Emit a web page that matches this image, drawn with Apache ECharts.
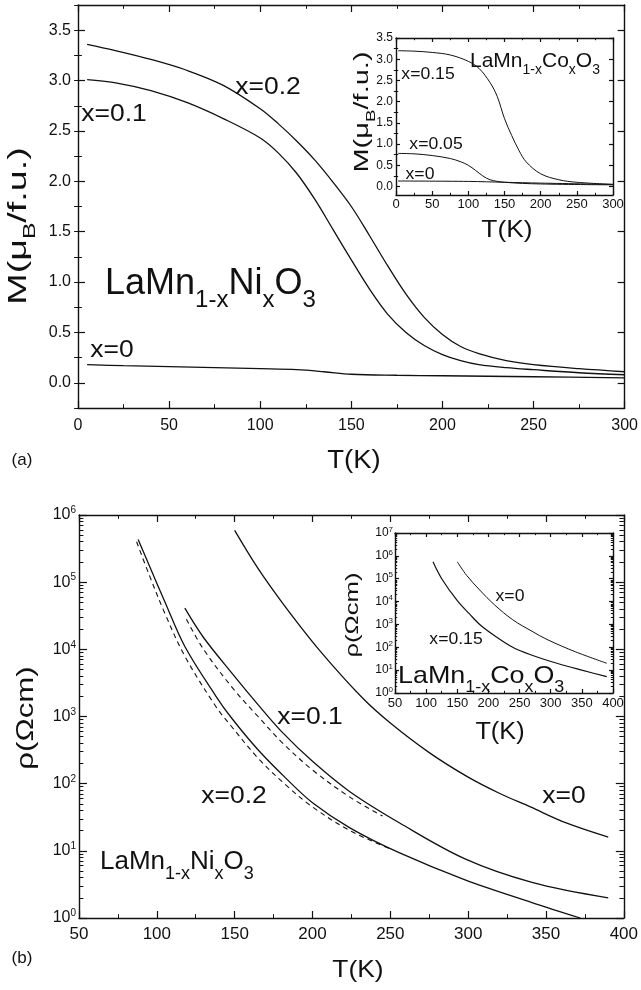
<!DOCTYPE html>
<html>
<head>
<meta charset="utf-8">
<script src="https://cdn.jsdelivr.net/npm/echarts@6/dist/echarts.min.js"></script>
<style>
  html, body { margin: 0; padding: 0; background: #fff; }
  #chart { width: 641px; height: 990px; }
</style>
</head>
<body>
<div id="chart"></div>
<script>
// (a) M(T) of LaMn1-xNixO3
const tNi0 = [5, 25, 50, 75, 100, 120, 135, 150, 175, 200, 250, 300]
const mNi0 = [0.18, 0.17, 0.16, 0.15, 0.14, 0.13, 0.11, 0.085, 0.075, 0.07, 0.06, 0.05]
const tNi1 = [5, 20, 40, 60, 80, 100, 110, 120, 130, 140, 150, 160, 170, 180, 190, 200, 210, 220, 235, 250, 275, 300]
const mNi1 = [3.01, 2.98, 2.9, 2.78, 2.62, 2.43, 2.28, 2.08, 1.82, 1.52, 1.22, 0.93, 0.68, 0.5, 0.37, 0.28, 0.22, 0.18, 0.15, 0.13, 0.1, 0.08]
const tNi2 = [5, 20, 40, 60, 80, 100, 110, 120, 130, 140, 150, 160, 170, 180, 190, 200, 210, 220, 235, 250, 275, 300]
const mNi2 = [3.36, 3.3, 3.21, 3.1, 2.95, 2.72, 2.57, 2.4, 2.21, 1.99, 1.75, 1.46, 1.16, 0.88, 0.65, 0.48, 0.36, 0.29, 0.22, 0.18, 0.14, 0.11]

// (a) inset: M(T) of LaMn1-xCoxO3
const tCo0 = [3, 100, 150, 200, 300]
const mCo0 = [0.13, 0.12, 0.1, 0.08, 0.05]
const tCo05 = [3, 25, 50, 75, 90, 100, 110, 120, 130, 150, 200, 300]
const mCo05 = [0.78, 0.77, 0.73, 0.66, 0.58, 0.5, 0.38, 0.25, 0.16, 0.1, 0.06, 0.04]
const tCo15 = [3, 25, 50, 75, 100, 115, 130, 140, 150, 160, 170, 180, 200, 225, 250, 300]
const mCo15 = [3.2, 3.19, 3.16, 3.1, 2.95, 2.78, 2.45, 2.12, 1.6, 1.2, 0.85, 0.58, 0.3, 0.16, 0.1, 0.05]

// (b) resistivity of LaMn1-xNixO3 (solid: data, dashed: fits)
const tR0 = [150, 165, 181, 204, 232, 250, 275, 300, 320, 340, 363, 390]
const rR0 = [5.9e5, 1.6e5, 4.8e4, 1.0e4, 1.9e3, 800, 290, 125, 72, 45, 26, 16]
const tR1 = [118, 130, 149, 165, 180, 200, 224, 256, 298, 341, 390]
const rR1 = [4.1e4, 1.5e4, 4.2e3, 1.5e3, 600, 215, 76, 26, 7.6, 3.4, 2.0]
const tR1fit = [119, 130, 149, 165, 180, 200, 224, 245]
const rR1fit = [2.8e4, 1.0e4, 2.6e3, 1.0e3, 420, 160, 63, 33]
const tR2 = [88, 95, 105, 118, 138, 148, 165, 183, 200, 224, 256, 298, 341, 372]
const rR2 = [4.3e5, 1.8e5, 5.2e4, 1.1e4, 2.0e3, 950, 320, 120, 52, 22, 9.3, 3.7, 1.7, 1.0]
const tR2fit = [87, 95, 105, 118, 138, 148, 165, 183, 200, 224, 250]
const rR2fit = [4.0e5, 1.3e5, 3.5e4, 7.9e3, 1.4e3, 710, 240, 95, 45, 20, 10.7]

// (b) inset: resistivity of LaMn1-xCoxO3
const tRc0 = [150, 165, 186, 210, 239, 270, 294, 340, 390]
const rRc0 = [5.5e5, 1.4e5, 3.2e4, 7.1e3, 1.6e3, 500, 220, 63, 20]
const tRc15 = [111, 125, 150, 170, 186, 210, 239, 270, 310, 350, 390]
const rRc15 = [5.5e5, 1.0e5, 1.1e4, 2.8e3, 1.0e3, 320, 100, 45, 20, 10, 5.2]

// tick labels
const mTicks = [0, 0.5, 1, 1.5, 2, 2.5, 3, 3.5]
const rhoTicksMain = [1, 10, 100, 1e3, 1e4, 1e5, 1e6]
const rhoTicksInset = [1, 10, 100, 1e3, 1e4, 1e5, 1e6, 1e7]

const FONT = 'Liberation Sans, Arial, sans-serif'
const INK = '#111'

const pairs = (xs, ys) => xs.map((x, i) => [x, ys[i]])

const xAxes = []
const yAxes = []

function addX(grid, o) {
  const base = {
    gridIndex: grid, type: 'value', min: o.min, max: o.max, interval: o.interval,
    axisLine: { onZero: false, lineStyle: { color: INK, width: 1.4 } },
    axisTick: { inside: true, length: o.tick, lineStyle: { color: INK, width: 1.2 } },
    minorTick: { show: true, splitNumber: 2, length: o.tick * 0.55, lineStyle: { color: INK } },
    splitLine: { show: false }
  }
  xAxes.push(Object.assign({}, base, {
    position: 'bottom',
    axisLabel: { fontSize: o.font, color: INK, fontFamily: FONT, margin: o.margin }
  }))
  const idx = xAxes.length - 1
  xAxes.push(Object.assign({}, base, { position: 'top', axisLabel: { show: false } }))
  return idx
}

function addY(grid, o) {
  const base = {
    gridIndex: grid, type: o.type, min: o.min, max: o.max,
    axisLine: { onZero: false, lineStyle: { color: INK, width: 1.4 } },
    splitLine: { show: false }
  }
  const major = { inside: true, length: o.tick, customValues: o.major, lineStyle: { color: INK, width: 1.2 } }
  yAxes.push(Object.assign({}, base, {
    position: 'left', axisTick: major,
    axisLabel: {
      customValues: o.major, fontSize: o.font, color: INK, fontFamily: FONT,
      margin: o.margin, formatter: o.formatter, rich: o.rich
    }
  }))
  const idx = yAxes.length - 1
  yAxes.push(Object.assign({}, base, { position: 'right', axisTick: major, axisLabel: { show: false } }))
  const minor = { inside: true, length: o.tick * 0.55, customValues: o.minor, lineStyle: { color: INK } }
  for (const pos of ['left', 'right']) {
    yAxes.push(Object.assign({}, base, {
      position: pos, axisLine: { show: false }, axisTick: minor, axisLabel: { show: false }
    }))
  }
  return idx
}

function minorLinear(lo, hi, step) {
  const out = []
  for (let v = lo; v <= hi + 1e-9; v += step) out.push(+v.toFixed(3))
  return out
}
function minorLog(d0, d1) {
  const out = []
  for (let d = d0; d < d1; d++) for (let k = 2; k <= 9; k++) out.push(k * Math.pow(10, d))
  return out
}
const supLabel = v => '{b|10}{p|' + Math.round(Math.log10(v)) + '}'

const grids = [
  { left: 78, top: 5, width: 547, height: 403 },
  { left: 396, top: 38, width: 217, height: 157, show: true, backgroundColor: '#fff', borderWidth: 0 },
  { left: 79, top: 515, width: 546, height: 403 },
  { left: 395, top: 533, width: 218, height: 160, show: true, backgroundColor: '#fff', borderWidth: 0 }
]

const xA = addX(0, { min: 0, max: 300, interval: 50, tick: 7, font: 16, margin: 10 })
const yA = addY(0, {
  type: 'value', min: -0.25, max: 3.75, major: mTicks, minor: minorLinear(-0.25, 3.75, 0.25),
  tick: 7, font: 16, margin: 7, formatter: v => v.toFixed(1)
})
const xAi = addX(1, { min: 0, max: 300, interval: 50, tick: 4, font: 13, margin: 3 })
const yAi = addY(1, {
  type: 'value', min: -0.2, max: 3.5, major: mTicks, minor: minorLinear(0.25, 3.25, 0.5),
  tick: 4, font: 12, margin: 3, formatter: v => v.toFixed(1)
})
const xB = addX(2, { min: 50, max: 400, interval: 50, tick: 7, font: 17, margin: 8 })
const yB = addY(2, {
  type: 'log', min: 1, max: 1e6, major: rhoTicksMain, minor: minorLog(0, 6),
  tick: 8, font: 16, margin: 3, formatter: supLabel,
  rich: { b: { fontSize: 16, fontFamily: FONT, color: INK }, p: { fontSize: 10, fontFamily: FONT, color: INK, padding: [0, 0, 9, 0] } }
})
const xBi = addX(3, { min: 50, max: 400, interval: 50, tick: 4, font: 13, margin: 4 })
const yBi = addY(3, {
  type: 'log', min: 1, max: 1e7, major: rhoTicksInset, minor: minorLog(0, 7),
  tick: 4, font: 12, margin: 2, formatter: supLabel,
  rich: { b: { fontSize: 12, fontFamily: FONT, color: INK }, p: { fontSize: 8, fontFamily: FONT, color: INK, padding: [0, 0, 7, 0] } }
})

function line(name, xi, yi, xs, ys, dashed, width) {
  return {
    name, type: 'line', xAxisIndex: xi, yAxisIndex: yi,
    data: pairs(xs, ys), showSymbol: false, smooth: 0.35,
    lineStyle: { color: INK, width: width || 1.3, type: dashed ? [5, 4] : 'solid' },
    z: 3
  }
}

const series = [
  line('Ni x=0', xA, yA, tNi0, mNi0),
  line('Ni x=0.1', xA, yA, tNi1, mNi1),
  line('Ni x=0.2', xA, yA, tNi2, mNi2),
  line('Co x=0', xAi, yAi, tCo0, mCo0, false, 1),
  line('Co x=0.05', xAi, yAi, tCo05, mCo05, false, 1),
  line('Co x=0.15', xAi, yAi, tCo15, mCo15, false, 1),
  line('rho Ni x=0', xB, yB, tR0, rR0),
  line('rho Ni x=0.1', xB, yB, tR1, rR1),
  line('rho Ni x=0.1 fit', xB, yB, tR1fit, rR1fit, true, 1.1),
  line('rho Ni x=0.2', xB, yB, tR2, rR2),
  line('rho Ni x=0.2 fit', xB, yB, tR2fit, rR2fit, true, 1.1),
  line('rho Co x=0', xBi, yBi, tRc0, rRc0, false, 1),
  line('rho Co x=0.15', xBi, yBi, tRc15, rRc15, false, 1.2)
]

// plain centred text, optionally stretched along its reading direction
function label(text, x, y, size, stretch, rotate) {
  return {
    type: 'text', x, y, z: 10,
    scaleX: stretch || 1, rotation: rotate ? Math.PI / 2 : 0,
    style: {
      text, fontSize: size, fontFamily: FONT, fill: INK,
      align: 'center', verticalAlign: 'middle', textAlign: 'center', textVerticalAlign: 'middle'
    }
  }
}
// rich text with dropped subscripts: {m|...} main, {s|...} subscript
function subText(text, x, y, main, sub, drop, stretch, rotate, align) {
  return {
    type: 'text', x, y, z: 10,
    scaleX: stretch || 1, rotation: rotate ? Math.PI / 2 : 0,
    style: {
      text, fill: INK,
      align: align || 'center', verticalAlign: 'middle',
      textAlign: align || 'center', textVerticalAlign: 'middle',
      rich: {
        m: { fontSize: main, fontFamily: FONT, color: INK, verticalAlign: 'bottom', padding: [0, 0, drop, 0] },
        s: { fontSize: sub, fontFamily: FONT, color: INK, verticalAlign: 'bottom' }
      }
    }
  }
}
const NI = '{m|LaMn}{s|1-x}{m|Ni}{s|x}{m|O}{s|3}'
const CO = '{m|LaMn}{s|1-x}{m|Co}{s|x}{m|O}{s|3}'
const MU = '{m|M(μ}{s|B}{m|/f.u.)}'

const graphic = [
  // panel (a)
  label('x=0.2', 268, 88, 23, 1.15),
  label('x=0.1', 114, 115, 23, 1.15),
  label('x=0', 112, 351, 23, 1.15),
  subText(NI, 105, 289, 36, 24, 10, 1, false, 'left'),
  subText(MU, 22, 226, 26, 17, 7, 1.45, true),
  label('T(K)', 354, 461, 25, 1.1),
  label('(a)', 22, 460, 17),
  // inset (a)
  label('x=0.15', 428, 75, 16, 1.1),
  label('x=0.05', 436, 145, 16, 1.1),
  label('x=0', 420, 175, 16, 1.1),
  subText(CO, 470, 64, 21, 14, 6, 1, false, 'left'),
  subText(MU, 365, 112, 20, 13, 5, 1.45, true),
  label('T(K)', 507, 230, 24, 1.1),
  // panel (b)
  label('x=0.1', 310, 718, 23, 1.15),
  label('x=0.2', 234, 797, 23, 1.15),
  label('x=0', 564, 797, 23, 1.15),
  subText(NI, 100, 866, 26, 18, 8, 1, false, 'left'),
  label('ρ(Ωcm)', 26, 718, 24, 1.3, true),
  label('T(K)', 358, 970, 24, 1.1),
  label('(b)', 22, 958, 17),
  // inset (b)
  label('x=0', 510, 597, 16, 1.1),
  label('x=0.15', 456, 640, 16, 1.1),
  subText(CO, 398, 680, 24, 16, 8, 1.12, false, 'left'),
  label('ρ(Ωcm)', 353, 615, 19, 1.35, true),
  label('T(K)', 500, 733, 23, 1.1)
]

const chart = echarts.init(document.getElementById('chart'))
chart.setOption({
  animation: false,
  backgroundColor: '#fff',
  textStyle: { fontFamily: FONT },
  grid: grids,
  xAxis: xAxes,
  yAxis: yAxes,
  series,
  graphic
})
</script>
</body>
</html>
